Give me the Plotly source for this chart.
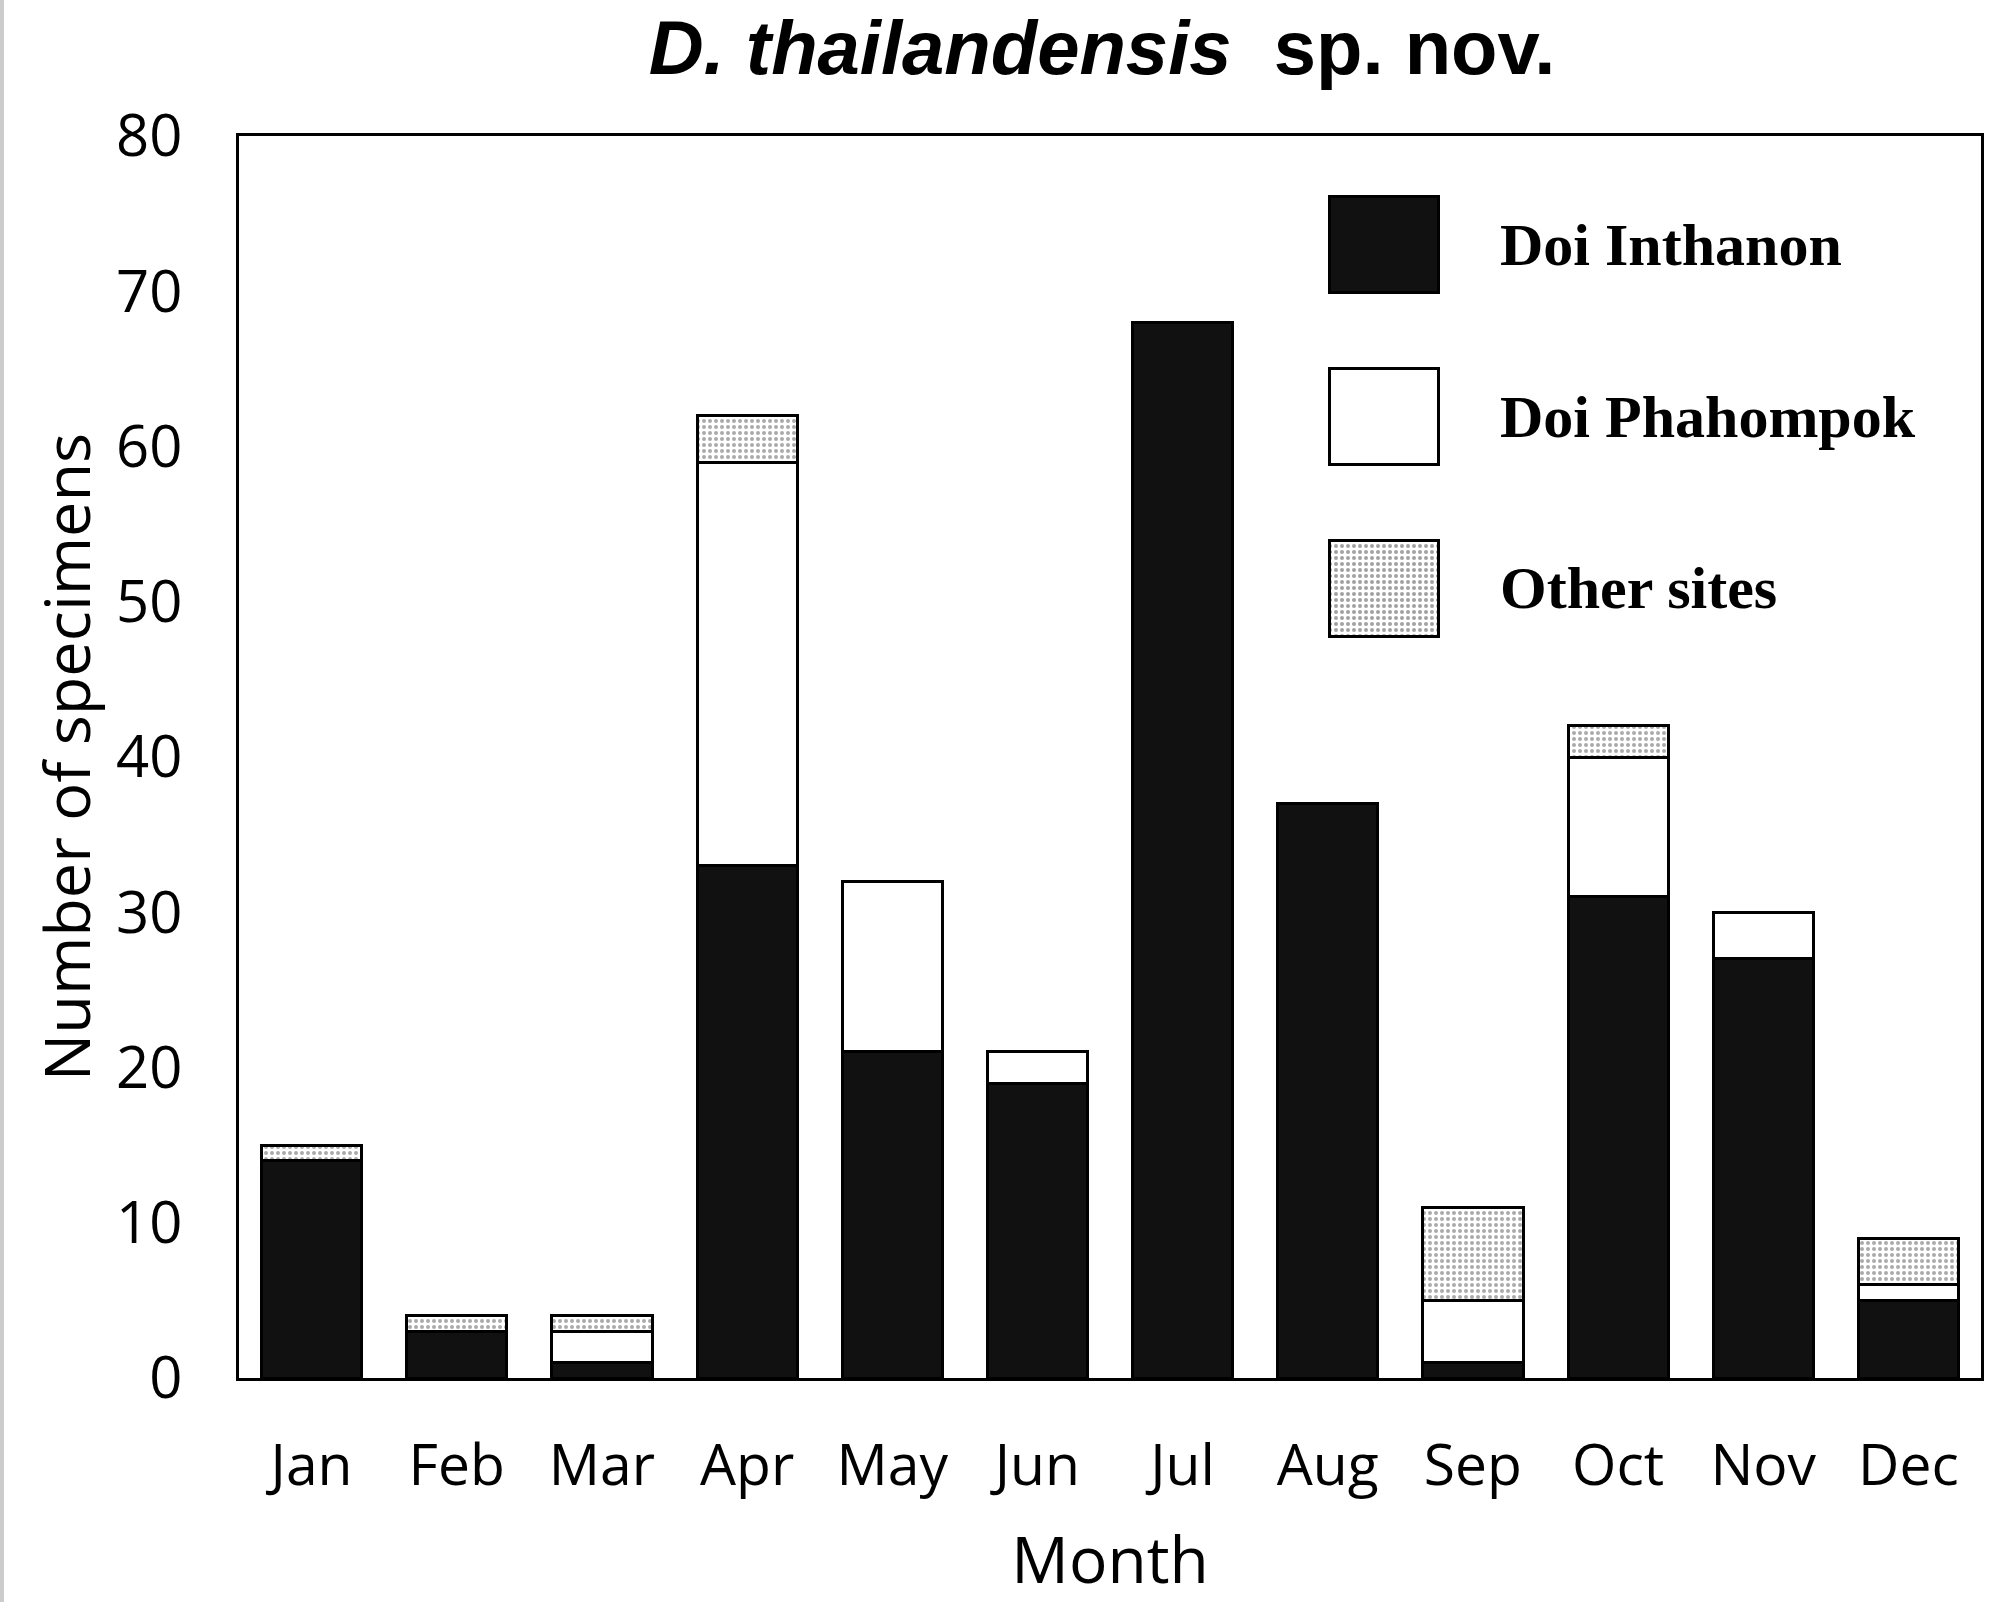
import plotly.graph_objects as go

months = ["Jan", "Feb", "Mar", "Apr", "May", "Jun", "Jul", "Aug", "Sep", "Oct", "Nov", "Dec"]
doi_inthanon = [14, 3, 1, 33, 21, 19, 68, 37, 1, 31, 27, 5]
doi_phahompok = [0, 0, 2, 26, 11, 2, 0, 0, 4, 9, 3, 1]
other_sites = [1, 1, 1, 3, 0, 0, 0, 0, 6, 2, 0, 3]
series_names = ["Doi Inthanon", "Doi Phahompok", "Other sites"]
y_ticks = [0, 10, 20, 30, 40, 50, 60, 70, 80]

W, H = 2008, 1602
L, R, T, B = 239, 27, 136, 224

BLACK = "#111111"
PAT = dict(shape=".", fgcolor="#555555", bgcolor="white", size=6, solidity=0.35)

fig = go.Figure()
fig.add_trace(go.Bar(x=months, y=doi_inthanon, name=series_names[0],
                     marker=dict(color=BLACK, line=dict(color="black", width=3))))
fig.add_trace(go.Bar(x=months, y=doi_phahompok, name=series_names[1],
                     marker=dict(color="white", line=dict(color="black", width=3))))
fig.add_trace(go.Bar(x=months, y=other_sites, name=series_names[2],
                     marker=dict(color="white", pattern=PAT, line=dict(color="black", width=3))))

# legend swatches drawn as bars on an overlay axis
fig.add_trace(go.Bar(
    x=[1, 1, 1], y=[0, 1, 2], orientation="h", width=0.56,
    xaxis="x2", yaxis="y2", showlegend=False, hoverinfo="skip",
    marker=dict(color=[BLACK, "white", "white"],
                pattern=dict(shape=["", "", "."], fgcolor="#555555", bgcolor="white",
                             size=6, solidity=0.35),
                line=dict(color="black", width=3)),
))

pw = W - L - R
ph = H - T - B

def px_x(p):
    return (p - L) / pw

def px_y(p):
    return 1 - (p - T) / ph

for i, name in enumerate(series_names):
    fig.add_annotation(text="<b>%s</b>" % name, xref="paper", yref="y2",
                       x=px_x(1498), y=i, xanchor="left", yanchor="middle",
                       showarrow=False,
                       font=dict(family="Liberation Serif", size=60, color="black"))

fig.update_layout(
    width=W, height=H,
    margin=dict(l=L, r=R, t=T, b=B, autoexpand=False),
    barmode="stack",
    bargap=0.31,
    showlegend=False,
    plot_bgcolor="white",
    paper_bgcolor="white",
    title=dict(text="<b><i>D. thailandensis</i>\u00a0\u00a0sp. nov.</b>",
               x=px_x(1102), xref="paper", xanchor="center",
               y=1 - 47 / H, yref="container", yanchor="middle",
               font=dict(family="Liberation Sans", size=76, color="black")),
    xaxis=dict(
        automargin=False,
        showline=True, linecolor="black", linewidth=3, mirror=True,
        showgrid=False, ticks="", ticklabelstandoff=36,
        tickfont=dict(family="Open Sans", size=57, color="black"),
        title=dict(text="Month", standoff=40,
                   font=dict(family="Open Sans", size=64, color="black")),
    ),
    yaxis=dict(
        automargin=False,
        range=[0, 80], tickvals=y_ticks,
        showline=True, linecolor="black", linewidth=3, mirror=True,
        showgrid=False, zeroline=False, ticks="", ticklabelstandoff=42,
        tickfont=dict(family="Open Sans", size=58, color="black"),
        title=dict(text="Number of specimens", standoff=6,
                   font=dict(family="Open Sans", size=63, color="black")),
    ),
    xaxis2=dict(domain=[px_x(1327), px_x(1441)], range=[-0.02, 1.02], anchor="y2",
                visible=False, fixedrange=True),
    yaxis2=dict(domain=[px_y(674), px_y(159)], range=[2.5, -0.5], anchor="x2",
                visible=False, fixedrange=True),
    shapes=[dict(type="rect", xref="paper", yref="paper",
                 x0=px_x(0), x1=px_x(4), y0=px_y(H), y1=px_y(0),
                 fillcolor="#cccccc", line=dict(width=0), layer="below")],
)

fig.write_html("out.html", config={"displayModeBar": False},
               post_script="document.body.style.margin='0';")
